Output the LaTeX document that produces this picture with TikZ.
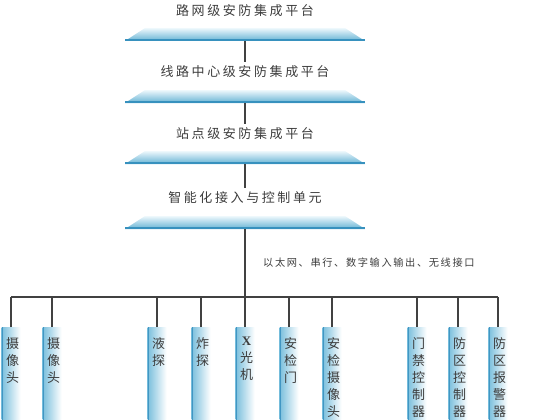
\documentclass[tikz,border=0pt]{standalone}
\usepackage{fontspec}
\setmainfont{Noto Sans CJK SC}
\newfontfamily\titlefont[LetterSpace=20]{Noto Sans CJK SC}
\newfontfamily\smallfont[LetterSpace=16]{Noto Sans CJK SC}
\newfontfamily\latinserif{Liberation Serif}
\definecolor{ink}{RGB}{60,60,60}
\definecolor{pltop}{RGB}{238,248,252}
\definecolor{plbot}{RGB}{100,178,212}
\definecolor{plline}{RGB}{55,145,190}
\definecolor{boxblue}{RGB}{120,190,220}
\definecolor{boxline}{RGB}{65,150,195}
\definecolor{wire}{RGB}{65,65,65}
\tikzset{
  platform/.style={rectangle, minimum width=240pt, minimum height=13pt, inner sep=0pt,
    path picture={
      \shade[top color=pltop, bottom color=plbot]
        (path picture bounding box.south west) -- ([xshift=20pt]path picture bounding box.north west)
        -- ([xshift=-20pt]path picture bounding box.north east) -- (path picture bounding box.south east) -- cycle;
      \draw[plline, line width=1.6pt] ([yshift=0.8pt]path picture bounding box.south west) -- ([yshift=0.8pt]path picture bounding box.south east);
    }},
  title/.style={font=\titlefont\fontsize{13pt}{15pt}\selectfont, text=ink, inner sep=4pt},
  devbox/.style={rectangle, anchor=north, minimum width=19pt, minimum height=100pt, inner sep=0pt,
    left color=boxblue, right color=white,
    path picture={
      \draw[boxline, line width=1.6pt] ([xshift=0.8pt]path picture bounding box.north west) -- ([xshift=0.8pt]path picture bounding box.south west);
    }},
  devtxt/.style={anchor=north, align=center, inner sep=0pt, text=ink,
    font=\fontsize{13pt}{17pt}\selectfont},
  wireline/.style={draw=wire, line width=1.5pt}
}
\begin{document}
\begin{tikzpicture}[x=1pt,y=-1pt]
\useasboundingbox (0,0) rectangle (538,420);
\node[title] (t1) at (245,11) {路网级安防集成平台};
\node[platform] (p1) at (245,34.5) {};
\node[title] (t2) at (245,72) {线路中心级安防集成平台};
\node[platform] (p2) at (245,96.5) {};
\node[title] (t3) at (245,134) {站点级安防集成平台};
\node[platform] (p3) at (245,157.5) {};
\node[title] (t4) at (245,198) {智能化接入与控制单元};
\node[platform] (p4) at (245,222.5) {};
\node[anchor=west, text=ink, inner sep=0pt, font=\smallfont\fontsize{10.2pt}{12pt}\selectfont] (iface) at (263,263) {以太网、串行、数字输入输出、无线接口};
\coordinate (busL) at (11,297);
\coordinate (busR) at (498,297);
\coordinate (busM) at (245,297);
\draw[wireline] (p1.south) -- (t2.north);
\draw[wireline] (p2.south) -- (t3.north);
\draw[wireline] (p3.south) -- (t4.north);
\draw[wireline] (p4.south) -- (busM);
\draw[wireline] (busL) -- (busR);
\foreach \i/\x/\t in {1/11/{摄\\像\\头}, 2/52/{摄\\像\\头}, 3/157/{液\\探}, 4/201/{炸\\探}, 5/245/{{\latinserif\bfseries X}\\光\\机},
  6/289/{安\\检\\门}, 7/332/{安\\检\\摄\\像\\头}, 8/417/{门\\禁\\控\\制\\器}, 9/458/{防\\区\\控\\制\\器}, 10/498/{防\\区\\报\\警\\器}} {
  \node[devbox] (b\i) at (\x,327) {};
  \node[devtxt] (l\i) at ([xshift=1.5pt,yshift=-10pt]b\i.north) {\t};
  \draw[wireline] (b\i.north) -- (b\i.north |- busL);
}
\end{tikzpicture}
\end{document}
